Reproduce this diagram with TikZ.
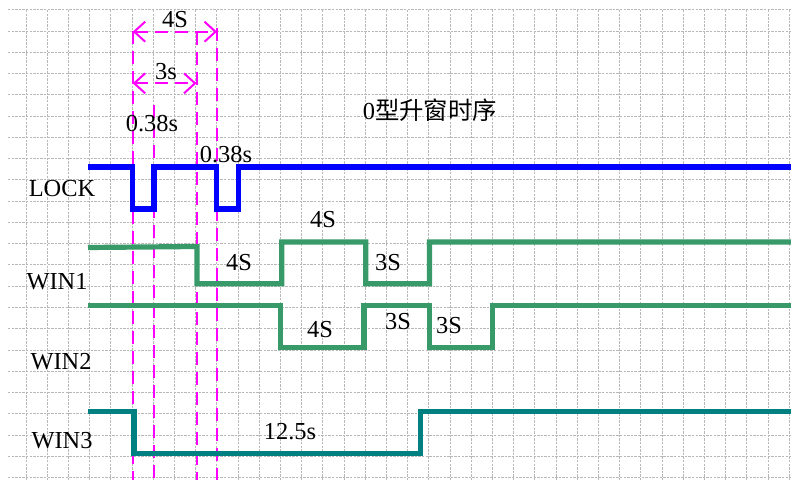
\documentclass[tikz,border=0pt]{standalone}
\usepackage{fontspec}
\setmainfont{Liberation Serif}
\newfontfamily\cjk{Noto Sans CJK SC}
\usetikzlibrary{arrows.meta}
\definecolor{lockblue}{RGB}{0,0,255}
\definecolor{wingreen}{RGB}{56,154,104}
\definecolor{winteal}{RGB}{0,128,128}
\definecolor{guidepink}{RGB}{255,0,255}
\begin{document}
\begin{tikzpicture}[x=0.5pt, y=-0.5pt,
    gridline/.style={draw=black!28, line width=0.5pt, dash pattern=on 1.2pt off 0.6pt},
    wave/.style={line width=2.6pt, miter limit=10},
    guide/.style={draw=guidepink, line width=1pt, dash pattern=on 6.5pt off 3.5pt},
    span/.style={guide, {Straight Barb[length=5.5pt,width=10pt]}-{Straight Barb[length=5.5pt,width=10pt]}},
    lbl/.style={inner sep=0pt, font=\fontsize{12.2}{14}\selectfont}]
      \useasboundingbox (0,0) rectangle (791,480);
      % grid
      \foreach \i in {0,...,36}
        \draw[gridline] (26+21.2*\i,10) -- (26+21.2*\i,480);
      \foreach \j in {0,...,22}
        \draw[gridline] (8,10+21.25*\j) -- (791,10+21.25*\j);
      % pink guides
      \draw[guide] (132.7,31) -- (132.7,480);
      \draw[guide] (154,105) -- (154,480);
      \draw[guide] (196.5,31.7) -- (196.5,480);
      \draw[guide] (217,28) -- (217,480);
      \coordinate (fourL) at (132.7,31.7);
      \coordinate (fourR) at (217,31.7);
      \coordinate (threeL) at (132.7,83.3);
      \coordinate (threeR) at (196.5,83.3);
      \draw[span] (fourL) -- (fourR);
      \draw[span] (threeL) -- (threeR);
      % signals
      \draw[wave, draw=lockblue] (88,167) -- (132.5,167) -- (132.5,209) -- (154,209) -- (154,167)
        -- (216.7,167) -- (216.7,209) -- (238.5,209) -- (238.5,167) -- (791,167);
      \draw[wave, draw=wingreen] (88,247.5) -- (197,246.5) -- (197,283.7) -- (281.7,283.7) -- (281.7,242)
        -- (365.8,242) -- (365.8,283.7) -- (429.5,283.7) -- (429.5,242) -- (791,242);
      \draw[wave, draw=wingreen] (88,305.8) -- (280.8,305.8) -- (280.8,347.5) -- (364,347.5) -- (364,305.8)
        -- (429.5,305.8) -- (429.5,347.5) -- (492.5,347.5) -- (492.5,305.8) -- (791,305.8);
      \draw[wave, draw=winteal] (88,411.7) -- (134,411.7) -- (134,453.5) -- (420.8,453.5) -- (420.8,411.7) -- (791,411.7);
      % labels
      \node[lbl] (t4S) at (175,20) {4S};
      \node[lbl] (t3s) at (166,72) {3s};
      \node[lbl] (tpulseA) at (152,124) {0.38s};
      \node[lbl] (tpulseB) at (226,155) {0.38s};
      \node[lbl] (title) at (430,110) {0{\cjk 型升窗时序}};
      \node[lbl] (lock) at (62,189) {LOCK};
      \node[lbl] (win1) at (57,282) {WIN1};
      \node[lbl] (win2) at (61,362) {WIN2};
      \node[lbl] (win3) at (62,441) {WIN3};
      \node[lbl] (w1a) at (239,263) {4S};
      \node[lbl] (w1b) at (323,220) {4S};
      \node[lbl] (w1c) at (388,263) {3S};
      \node[lbl] (w2a) at (320,330) {4S};
      \node[lbl] (w2b) at (398,322) {3S};
      \node[lbl] (w2c) at (449,326) {3S};
      \node[lbl] (w3a) at (290,432) {12.5s};
    \end{tikzpicture}
\end{document}
